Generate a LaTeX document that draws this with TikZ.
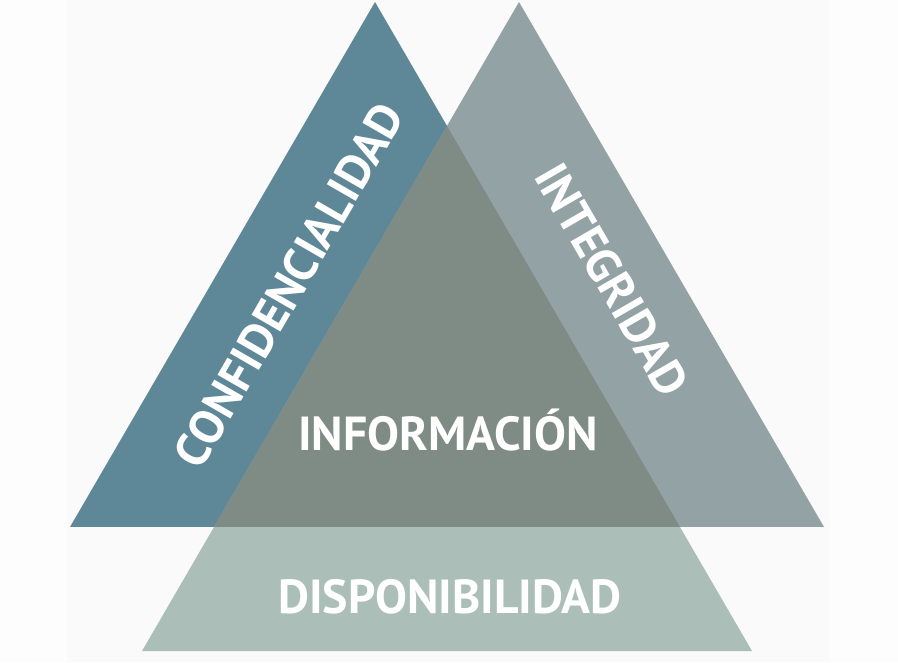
\documentclass[tikz,border=0pt]{standalone}
\usepackage{fontspec}
\setmainfont{PT Sans}
\usepackage{xcolor}
\definecolor{confid}{HTML}{5E8798}
\definecolor{integ}{HTML}{93A3A5}
\definecolor{dispon}{HTML}{ABBFB8}
\definecolor{informa}{HTML}{7F8B85}
\definecolor{fondo}{HTML}{FAFAFA}
\definecolor{fondoext}{HTML}{FDFDFD}
\tikzstyle{rotulo} = [text=white, font=\fontsize{27.2}{31}\selectfont\bfseries, inner sep=0pt]

\begin{document}
\begin{tikzpicture}[x=0.02cm, y=0.02cm]
\useasboundingbox (0,0) rectangle (898,662);
\fill[fondoext] (0,0) rectangle (898,662);
\fill[fondo] (67,0) rectangle (830,662);

% tres triangulos
\fill[dispon] (447,536) -- (142,11) -- (752,11) -- cycle;
\fill[confid] (375,660) -- (70,135) -- (680,135) -- cycle;
\fill[integ] (519,660) -- (214,135) -- (824,135) -- cycle;
\fill[informa] (447,536) -- (214,135) -- (680,135) -- cycle;

\node (conf) [rotulo, rotate=60] at (289,377) {CONFIDENCIALIDAD};
\node (integ) [rotulo, rotate=-60] at (612,382) {INTEGRIDAD};
\node (info) [rotulo] at (448,232) {INFORMACIÓN};
\node (disp) [rotulo] at (450,65) {DISPONIBILIDAD};

\end{tikzpicture}
\end{document}
